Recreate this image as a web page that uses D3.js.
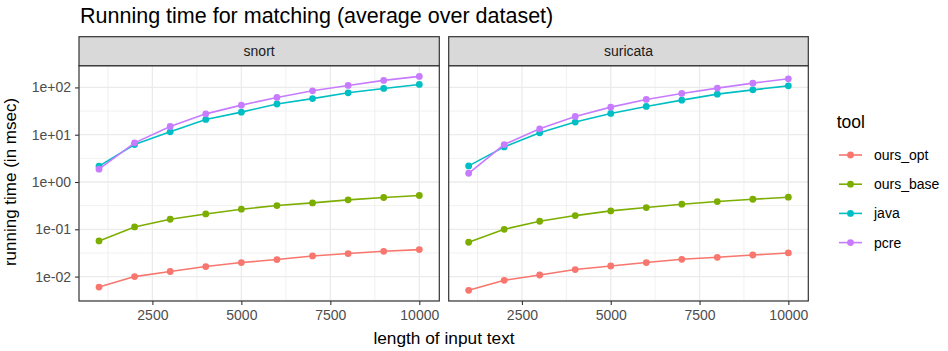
<!DOCTYPE html>
<html>
<head>
<meta charset="utf-8">
<script src="https://cdn.jsdelivr.net/npm/d3@7"></script>
<style>
  html, body { margin: 0; padding: 0; background: #fff; }
  svg { display: block; font-family: "Liberation Sans", Arial, Helvetica, sans-serif; }
</style>
</head>
<body>
<svg id="chart" width="948" height="351"></svg>
<script>
// data
const lengths = [1000, 2000, 3000, 4000, 5000, 6000, 7000, 8000, 9000, 10000];
const tools = ['ours_opt', 'ours_base', 'java', 'pcre'];
const datasets = ['snort', 'suricata'];

const snortOursOpt = [0.0060, 0.0100, 0.0128, 0.0163, 0.0198, 0.0229, 0.0273, 0.0307, 0.0343, 0.0372];
const snortOursBase = [0.0568, 0.112, 0.163, 0.211, 0.266, 0.318, 0.362, 0.419, 0.470, 0.518];
const snortJava = [2.16, 6.2, 11.5, 21.0, 30.0, 44.6, 58.0, 76.9, 95.2, 115.7];
const snortPcre = [1.87, 6.73, 14.9, 27.6, 42.2, 61.4, 84.7, 110, 140.6, 171];

const suricataOursOpt = [0.00513, 0.00835, 0.0108, 0.0141, 0.0168, 0.0198, 0.0232, 0.0256, 0.0286, 0.0316];
const suricataOursBase = [0.0532, 0.100, 0.148, 0.195, 0.245, 0.288, 0.339, 0.386, 0.432, 0.477];
const suricataJava = [2.19, 5.53, 10.97, 18.5, 28.2, 39.6, 53.8, 72.1, 88.9, 108];
const suricataPcre = [1.53, 6.2, 13.3, 24.3, 38.3, 55.7, 74.6, 96.7, 123, 152];

const xTicks = [2500, 5000, 7500, 10000];
const xMinor = [1250, 3750, 6250, 8750];
const yTicks = [1e-2, 1e-1, 1e0, 1e1, 1e2];
const yTickLabels = ['1e-02', '1e-01', '1e+00', '1e+01', '1e+02'];

const colors = ['#F8766D', '#7CAE00', '#00BFC4', '#C77CFF'];

const series = {
  snort: [snortOursOpt, snortOursBase, snortJava, snortPcre],
  suricata: [suricataOursOpt, suricataOursBase, suricataJava, suricataPcre]
};

const svg = d3.select('#chart');
const color = d3.scaleOrdinal().domain(tools).range(colors);

// layout
const panelTop = 65.7, panelBottom = 301, stripTop = 36.7;
const panels = [{ name: 'snort', x0: 79, x1: 439.3 }, { name: 'suricata', x0: 448.7, x1: 808.3 }];

// shared log y scale with ggplot-like 5% expansion
const allVals = datasets.flatMap(d => series[d].flat());
const lo = Math.log10(d3.min(allVals)), hi = Math.log10(d3.max(allVals));
const pad = (hi - lo) * 0.05;
const y = d3.scaleLog().domain([Math.pow(10, lo - pad), Math.pow(10, hi + pad)]).range([panelBottom, panelTop]);
const yMinor = d3.range(-3, 3).map(e => Math.pow(10, e + 0.5));

const xPad = 562;

// title
svg.append('text').attr('x', 80).attr('y', 23).attr('font-size', 21.5).attr('fill', '#000')
  .text('Running time for matching (average over dataset)');

panels.forEach((p, pi) => {
  const x = d3.scaleLinear().domain([lengths[0] - xPad, lengths[lengths.length - 1] + xPad]).range([p.x0, p.x1]);
  const g = svg.append('g');

  g.append('rect').attr('x', p.x0).attr('y', panelTop).attr('width', p.x1 - p.x0).attr('height', panelBottom - panelTop).attr('fill', '#fff');

  const clipId = 'clip' + pi;
  g.append('clipPath').attr('id', clipId).append('rect')
    .attr('x', p.x0).attr('y', panelTop).attr('width', p.x1 - p.x0).attr('height', panelBottom - panelTop);
  const grid = g.append('g').attr('clip-path', `url(#${clipId})`);

  // minor grid
  grid.selectAll('.ymin').data(yMinor).join('line')
    .attr('x1', p.x0).attr('x2', p.x1).attr('y1', d => y(d)).attr('y2', d => y(d))
    .attr('stroke', '#EBEBEB').attr('stroke-width', 0.7);
  grid.selectAll('.xmin').data(xMinor).join('line')
    .attr('y1', panelTop).attr('y2', panelBottom).attr('x1', d => x(d)).attr('x2', d => x(d))
    .attr('stroke', '#EBEBEB').attr('stroke-width', 0.7);
  // major grid
  grid.selectAll('.ymaj').data(yTicks).join('line')
    .attr('x1', p.x0).attr('x2', p.x1).attr('y1', d => y(d)).attr('y2', d => y(d))
    .attr('stroke', '#EBEBEB').attr('stroke-width', 1.3);
  grid.selectAll('.xmaj').data(xTicks).join('line')
    .attr('y1', panelTop).attr('y2', panelBottom).attr('x1', d => x(d)).attr('x2', d => x(d))
    .attr('stroke', '#EBEBEB').attr('stroke-width', 1.3);

  // lines and points
  const line = d3.line().x((d, i) => x(lengths[i])).y(d => y(d));
  series[p.name].forEach((vals, si) => {
    grid.append('path').datum(vals).attr('d', line).attr('fill', 'none')
      .attr('stroke', colors[si]).attr('stroke-width', 1.6);
    grid.selectAll(null).data(vals).join('circle')
      .attr('cx', (d, i) => x(lengths[i])).attr('cy', d => y(d)).attr('r', 3.4)
      .attr('fill', colors[si]);
  });

  // panel border
  g.append('rect').attr('x', p.x0).attr('y', panelTop).attr('width', p.x1 - p.x0).attr('height', panelBottom - panelTop)
    .attr('fill', 'none').attr('stroke', '#333333').attr('stroke-width', 1.2);

  // strip
  g.append('rect').attr('x', p.x0).attr('y', stripTop).attr('width', p.x1 - p.x0).attr('height', panelTop - stripTop)
    .attr('fill', '#D9D9D9').attr('stroke', '#333333').attr('stroke-width', 1.2);
  g.append('text').attr('x', (p.x0 + p.x1) / 2).attr('y', 56).attr('text-anchor', 'middle')
    .attr('font-size', 14).attr('fill', '#1A1A1A').text(p.name);

  // x axis
  const xa = g.append('g').attr('transform', `translate(0,${panelBottom})`)
    .call(d3.axisBottom(x).tickValues(xTicks).tickSize(4).tickPadding(5).tickFormat(d3.format('d')));
  xa.select('.domain').remove();
  xa.selectAll('line').attr('stroke', '#333333').attr('stroke-width', 1.1);
  xa.selectAll('text').attr('font-size', 14).attr('fill', '#4D4D4D').attr('font-family', null);

  // y axis only on first panel
  if (pi === 0) {
    const ya = g.append('g').attr('transform', `translate(${p.x0},0)`)
      .call(d3.axisLeft(y).tickValues(yTicks).tickSize(4).tickPadding(4).tickFormat((d, i) => yTickLabels[i]));
    ya.select('.domain').remove();
    ya.selectAll('line').attr('stroke', '#333333').attr('stroke-width', 1.1);
    ya.selectAll('text').attr('font-size', 14).attr('fill', '#4D4D4D').attr('font-family', null);
  }
});

// axis titles
svg.append('text').attr('x', 444).attr('y', 344).attr('text-anchor', 'middle')
  .attr('font-size', 17.3).attr('fill', '#000').text('length of input text');
svg.append('text').attr('transform', `translate(16,182) rotate(-90)`)
  .attr('text-anchor', 'middle').attr('font-size', 17).attr('fill', '#000').text('running time (in msec)');

// legend
const legend = svg.append('g');
legend.append('text').attr('x', 836.7).attr('y', 128).attr('font-size', 17.5).attr('fill', '#000').text('tool');
const rows = legend.selectAll('g.item').data(tools).join('g')
  .attr('transform', (d, i) => `translate(0,${155 + i * 29.2})`);
rows.append('line').attr('x1', 839).attr('x2', 862).attr('stroke', d => color(d)).attr('stroke-width', 1.6);
rows.append('circle').attr('cx', 850.5).attr('r', 3.4).attr('fill', d => color(d));
rows.append('text').attr('x', 874).attr('y', 5).attr('font-size', 14).attr('fill', '#000').text(d => d);
</script>
</body>
</html>
